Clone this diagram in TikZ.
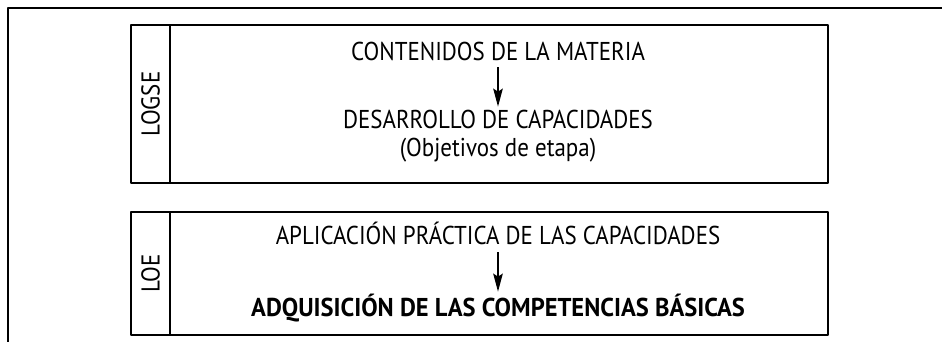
\documentclass[tikz,border=0pt]{standalone}
\usepackage{fontspec}
\setmainfont{PT Sans}[FakeStretch=0.89,BoldFeatures={FakeStretch=0.95}]
\usepackage{tikz}
\usetikzlibrary{arrows.meta}

\begin{document}
\begin{tikzpicture}[>={Stealth[length=9bp,width=4.8bp,inset=1.5bp]},line join=bevel,
  txt/.style={inner sep=0pt,text height=9bp,text depth=0pt,font=\fontsize{12.9bp}{15bp}\selectfont},
  lbl/.style={inner sep=0pt,rotate=90,font=\fontsize{12.9bp}{15bp}\selectfont},
  box/.style={line width=0.75bp}]
%%
\useasboundingbox (0bp,0bp) rectangle (471bp,171bp);
\draw [line width=1bp] (4bp,0bp) -- (4bp,167bp) -- (471bp,167bp);
%
\draw [box] (65.5bp,79.5bp) rectangle (414bp,158.5bp);
  \draw [box] (85bp,79.5bp) -- (85bp,158.5bp);
\draw [box] (65.5bp,3.5bp) rectangle (414bp,65bp);
  \draw [box] (85bp,3.5bp) -- (85bp,65bp);
%
\node (logse) at (75.25bp,119bp) [lbl] {LOGSE};
  \node (loe) at (75.25bp,34.25bp) [lbl] {LOE};
%
\node (cont) at (249bp,140.5bp) [txt,anchor=base] {CONTENIDOS DE LA MATERIA};
  \node (des) at (249bp,106.5bp) [txt,anchor=base] {DESARROLLO DE CAPACIDADES};
  \node (obj) at (249bp,92.5bp) [txt,anchor=base] {(Objetivos de etapa)};
  \node (apl) at (249bp,48.5bp) [txt,anchor=base] {APLICACIÓN PRÁCTICA DE LAS CAPACIDADES};
  \node (adq) at (249bp,13bp) [txt,anchor=base,font=\fontsize{12.9bp}{15bp}\selectfont\bfseries] {ADQUISICIÓN DE LAS COMPETENCIAS BÁSICAS};
%
\draw [->,line width=0.6bp,shorten <=3bp,shorten >=2bp] (cont) -- (des);
  \draw [->,line width=0.6bp,shorten <=3.5bp,shorten >=3bp] (apl) -- (adq);
%
\end{tikzpicture}
\end{document}
